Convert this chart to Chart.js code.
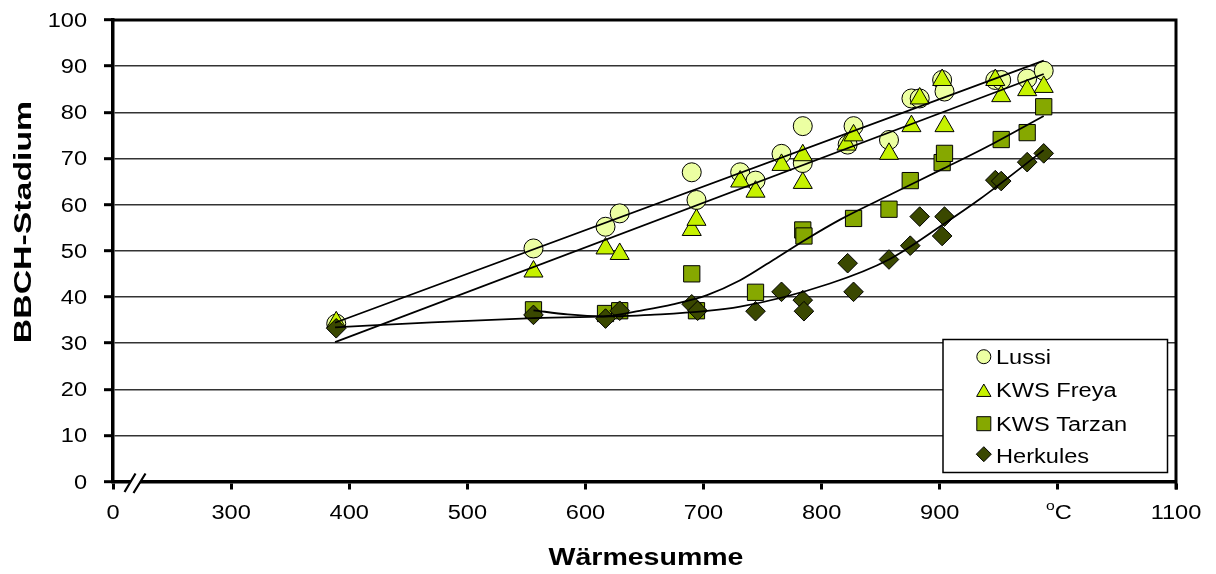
<!DOCTYPE html>
<html>
<head>
<meta charset="utf-8">
<script src="https://cdn.jsdelivr.net/npm/chart.js@4.4.1/dist/chart.umd.min.js"></script>
<style>
  html, body { margin: 0; padding: 0; background: #fff; }
  #c { display: block; }
</style>
</head>
<body>
<canvas id="c" width="1216" height="574"></canvas>
<script>
// ---------- data ----------
const seriesNames = ['Lussi', 'KWS Freya', 'KWS Tarzan', 'Herkules'];

const lussiX = [389, 556, 617, 629, 690, 694, 731, 744, 766, 784, 784, 822, 827, 857, 876, 883, 902, 904, 947, 952, 974, 988];
const lussiY = [34.2, 50.5, 55.2, 58.1, 67, 61, 67, 65.2, 71, 77, 69, 73, 77, 74, 83, 83, 87, 84.5, 87, 87, 87.3, 89];

const freyaX = [389, 556, 617, 629, 690, 694, 731, 744, 766, 784, 784, 821, 827, 857, 876, 883, 902, 904, 947, 952, 974, 988];
const freyaY = [34.5, 45.5, 50.5, 49.3, 54.5, 56.7, 65, 62.8, 68.6, 70.7, 64.7, 73, 75, 71, 77, 83, 87, 77, 87, 83.5, 84.8, 85.5];

const tarzanX = [556, 617, 629, 690, 694, 744, 784, 785, 827, 857, 875, 902, 904, 952, 974, 988];
const tarzanY = [37.2, 36.4, 37, 45, 37, 41, 54.5, 53.2, 57, 59, 65.2, 69.1, 71.1, 74.1, 75.6, 81.2];

const herkX = [389, 556, 617, 629, 690, 695, 744, 766, 784, 785, 822, 827, 857, 875, 883, 902, 904, 947, 952, 974, 988];
const herkY = [33.2, 36.1, 35.3, 37, 38.4, 37, 36.9, 41.1, 39.3, 36.9, 47.3, 41.1, 48.1, 51.1, 57.4, 53.2, 57.4, 65.3, 65.1, 69.2, 71.1];

// trend lines
const lussiTrendX = [388, 988];
const lussiTrendY = [34.4, 91.2];
const freyaTrendX = [388, 988];
const freyaTrendY = [30.2, 88.3];
const tarzanTrendX = [556, 585, 615, 650, 674, 703, 731, 759, 787, 816, 860, 903, 945, 988];
const tarzanTrendY = [37.1, 36.2, 35.8, 37.2, 38.4, 40.4, 43.6, 48.0, 52.5, 56.8, 62.4, 67.8, 73.2, 79.2];
const herkTrendX = [388, 470, 556, 655, 731, 807, 857, 904, 934, 988];
const herkTrendY = [33.4, 34.5, 35.4, 36.1, 37.9, 42.9, 48.1, 55.9, 61.2, 71.8];

// axis ticks
const xTickValues = [200, 300, 400, 500, 600, 700, 800, 900, 1000, 1100];
const xTickLabels = ['0', '300', '400', '500', '600', '700', '800', '900', 'oC', '1100'];
const yTickValues = [0, 10, 20, 30, 40, 50, 60, 70, 80, 90, 100];
const xTitle = 'Wärmesumme';
const yTitle = 'BBCH-Stadium';

// ---------- styles ----------
const colors = ['#ECFFA2', '#C6F200', '#86A800', '#3A4800'];
const shapes = ['circle', 'triangle', 'rect', 'rectRot'];
const radii = [9.5, 11, 11.5, 9.8];
const FONT = "'Liberation Sans', Arial, sans-serif";
const TXT = 19.5;   // text size
const SX = 1.21;    // horizontal stretch of the lettering

const pts = (xs, ys) => xs.map((x, i) => ({ x: x, y: ys[i] }));

function markerSet(i, xs, ys, order) {
  return {
    label: seriesNames[i],
    data: pts(xs, ys),
    showLine: false,
    pointStyle: shapes[i],
    pointRadius: radii[i],
    pointBackgroundColor: colors[i],
    pointBorderColor: '#000',
    pointBorderWidth: 1,
    order: order
  };
}
function trendSet(xs, ys) {
  return {
    label: '',
    data: pts(xs, ys),
    showLine: true,
    pointRadius: 0,
    borderColor: '#000',
    borderWidth: 1.8,
    cubicInterpolationMode: 'monotone',
    fill: false,
    order: 0
  };
}

function drawMarker(ctx, style, x, y, r, fill) {
  ctx.save();
  ctx.fillStyle = fill;
  ctx.strokeStyle = '#000';
  ctx.lineWidth = 1;
  ctx.beginPath();
  if (style === 'circle') {
    ctx.arc(x, y, r, 0, Math.PI * 2);
  } else if (style === 'triangle') {
    ctx.moveTo(x, y - r);
    ctx.lineTo(x + r * 0.866, y + r * 0.5);
    ctx.lineTo(x - r * 0.866, y + r * 0.5);
    ctx.closePath();
  } else if (style === 'rect') {
    const s = r * Math.SQRT1_2;
    ctx.rect(x - s, y - s, 2 * s, 2 * s);
  } else {
    ctx.moveTo(x, y - r);
    ctx.lineTo(x + r, y);
    ctx.lineTo(x, y + r);
    ctx.lineTo(x - r, y);
    ctx.closePath();
  }
  ctx.fill();
  ctx.stroke();
  ctx.restore();
}

// text with horizontal stretch (along the writing direction)
function text(ctx, str, x, y, o) {
  ctx.save();
  ctx.translate(x, y);
  if (o.rotate) ctx.rotate(-Math.PI / 2);
  ctx.scale(o.sx || SX, 1);
  ctx.font = (o.bold ? 'bold ' : '') + (o.size || TXT) + 'px ' + FONT;
  ctx.fillStyle = '#000';
  ctx.textAlign = o.align || 'left';
  ctx.textBaseline = 'alphabetic';
  ctx.fillText(str, 0, 0);
  ctx.restore();
}
function textWidth(ctx, str, o) {
  ctx.save();
  ctx.font = (o.bold ? 'bold ' : '') + (o.size || TXT) + 'px ' + FONT;
  const w = ctx.measureText(str).width * (o.sx || SX);
  ctx.restore();
  return w;
}

const decor = {
  id: 'decor',
  afterDraw(chart) {
    const ctx = chart.ctx;
    const a = chart.chartArea;
    const xs = chart.scales.x, ys = chart.scales.y;
    ctx.save();
    // top and right frame
    ctx.strokeStyle = '#000';
    ctx.lineWidth = 3;
    ctx.beginPath();
    ctx.moveTo(a.left, a.top);
    ctx.lineTo(a.right, a.top);
    ctx.lineTo(a.right, a.bottom + 8);
    ctx.stroke();

    // axis break marks
    ctx.fillStyle = '#fff';
    ctx.beginPath();
    ctx.moveTo(124, 492); ctx.lineTo(135, 473); ctx.lineTo(146, 473); ctx.lineTo(134, 493);
    ctx.closePath();
    ctx.fill();
    ctx.strokeStyle = '#000';
    ctx.lineWidth = 2.2;
    ctx.beginPath();
    ctx.moveTo(124.5, 492); ctx.lineTo(135.5, 473.5);
    ctx.moveTo(133.5, 493); ctx.lineTo(145.5, 473.5);
    ctx.stroke();

    // y tick labels
    yTickValues.forEach(v => {
      text(ctx, String(v), 87, ys.getPixelForValue(v) + 7, { align: 'right' });
    });
    // x tick labels
    xTickValues.forEach((v, i) => {
      const px = xs.getPixelForValue(v);
      const lab = xTickLabels[i];
      if (lab === 'oC') {
        const wo = textWidth(ctx, 'o', { size: 13 });
        const wc = textWidth(ctx, 'C', {});
        const x0 = px - (wo + wc) / 2 + 1;
        text(ctx, 'o', x0, 510, { size: 13 });
        text(ctx, 'C', x0 + wo, 518.5, {});
      } else {
        text(ctx, lab, px, 518.5, { align: 'center' });
      }
    });
    // axis titles
    text(ctx, xTitle, 646, 565, { bold: true, size: 23, sx: 1.24, align: 'center' });
    text(ctx, yTitle, 30.5, 222, { bold: true, size: 23, sx: 1.47, align: 'center', rotate: true });

    // legend
    const lx = 943, ly = 339.5, lw = 224.5, lh = 133;
    ctx.fillStyle = '#fff';
    ctx.fillRect(lx, ly, lw, lh);
    ctx.strokeStyle = '#000';
    ctx.lineWidth = 1.5;
    ctx.strokeRect(lx, ly, lw, lh);
    const legendR = [7, 8.3, 9.9, 7.5];
    const legendCY = [356.7, 392.3, 423.7, 454.2];
    const legendBase = [364, 397.3, 431, 462.7];
    for (let i = 0; i < seriesNames.length; i++) {
      drawMarker(ctx, shapes[i], 983.8, legendCY[i], legendR[i], colors[i]);
      text(ctx, seriesNames[i], 996, legendBase[i], {});
    }
    ctx.restore();
  }
};

const ctx = document.getElementById('c').getContext('2d');
new Chart(ctx, {
  type: 'scatter',
  data: {
    datasets: [
      markerSet(0, lussiX, lussiY, 4),
      markerSet(1, freyaX, freyaY, 3),
      markerSet(2, tarzanX, tarzanY, 2),
      markerSet(3, herkX, herkY, 1),
      trendSet(lussiTrendX, lussiTrendY),
      trendSet(freyaTrendX, freyaTrendY),
      trendSet(tarzanTrendX, tarzanTrendY),
      trendSet(herkTrendX, herkTrendY)
    ]
  },
  options: {
    responsive: false,
    animation: false,
    events: [],
    layout: { padding: { top: 20, right: 40, left: 0, bottom: 0 } },
    plugins: { legend: { display: false }, tooltip: { enabled: false } },
    scales: {
      x: {
        type: 'linear',
        min: 200, max: 1100,
        afterBuildTicks: s => { s.ticks = xTickValues.map(v => ({ value: v })); },
        afterFit: s => { s.height = 574 - 481.5; },
        ticks: { display: false, autoSkip: false, maxRotation: 0 },
        grid: { drawOnChartArea: false, drawTicks: true, tickLength: 8, tickColor: '#000', tickWidth: 3 },
        border: { color: '#000', width: 3.5 },
        title: { display: false }
      },
      y: {
        type: 'linear',
        min: 0, max: 100,
        afterBuildTicks: s => { s.ticks = yTickValues.map(v => ({ value: v })); },
        afterFit: s => { s.width = 113; },
        ticks: { display: false },
        grid: { color: '#333', lineWidth: 1.4, tickLength: 9, tickColor: '#000', tickWidth: 3 },
        border: { color: '#000', width: 3.5 },
        title: { display: false }
      }
    }
  },
  plugins: [decor]
});
</script>
</body>
</html>
